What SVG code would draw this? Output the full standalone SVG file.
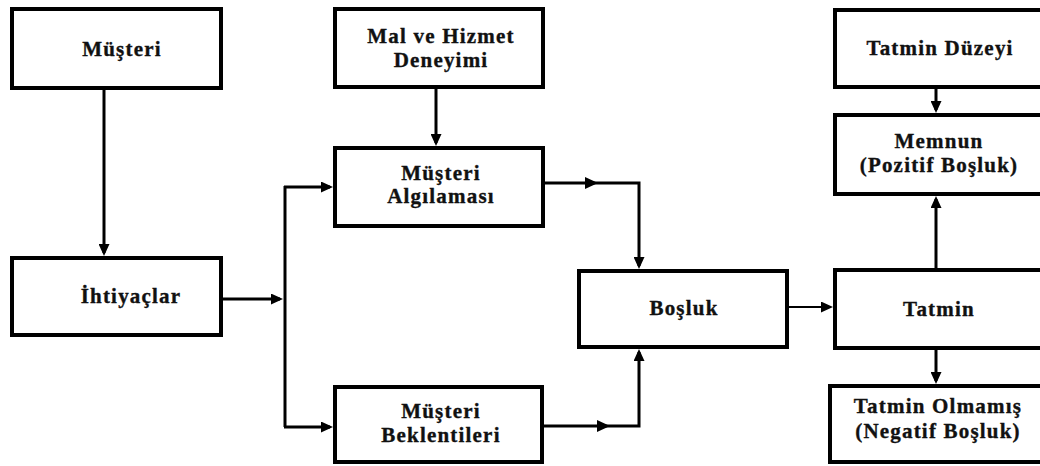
<svg xmlns="http://www.w3.org/2000/svg" width="1040" height="466" viewBox="0 0 1040 466">
<style>
.box{fill:#fff;stroke:#000;stroke-width:4}
.t{font-family:"Liberation Serif","Times New Roman",serif;font-weight:bold;font-size:21px;letter-spacing:1.2px;text-anchor:middle;fill:#111;stroke:#111;stroke-width:0.35px}
.c{fill:none;stroke:#000;stroke-width:3}
.c2{fill:none;stroke:#000;stroke-width:2}
</style>
<defs>
<marker id="ah" markerUnits="userSpaceOnUse" markerWidth="13" markerHeight="11" refX="9" refY="5.5" orient="auto">
<path d="M0,0 L12,5.5 L0,11 z" fill="#000"/>
</marker>
</defs>
<rect width="1040" height="466" fill="#fff"/>
<g id="connectors">
<path class="c" d="M104,90 V253" marker-end="url(#ah)"/>
<path class="c" d="M223,299 H280" marker-end="url(#ah)"/>
<path class="c" d="M285,186 V427"/>
<path class="c" d="M284,187 H330" marker-end="url(#ah)"/>
<path class="c" d="M284,427 H330" marker-end="url(#ah)"/>
<path class="c" d="M436,89 V143" marker-end="url(#ah)"/>
<path class="c" d="M545,183 H639 V266" marker-end="url(#ah)"/>
<polygon points="585,177 598,183 585,189" fill="#000"/>
<path class="c" d="M544,426 H639 V352" marker-end="url(#ah)"/>
<polygon points="597,420 610,426 597,432" fill="#000"/>
<path class="c2" d="M789,307 H830" marker-end="url(#ah)"/>
<path class="c" d="M936,89 V110" marker-end="url(#ah)"/>
<path class="c" d="M936,268 V199" marker-end="url(#ah)"/>
<path class="c" d="M936,350 V381" marker-end="url(#ah)"/>
</g>
<g id="musteri"><rect class="box" x="12" y="9" width="209" height="79"/><text class="t" x="122" y="56">Müşteri</text></g>
<g id="ihtiyaclar"><rect class="box" x="12" y="258" width="209" height="77"/><text class="t" x="131" y="303">İhtiyaçlar</text></g>
<g id="malhizmet"><rect class="box" x="335" y="9" width="208" height="78"/><text class="t" x="441" y="43">Mal ve Hizmet</text><text class="t" x="441" y="67">Deneyimi</text></g>
<g id="algilama"><rect class="box" x="335" y="148" width="208" height="78"/><text class="t" x="441" y="180">Müşteri</text><text class="t" x="441" y="203">Algılaması</text></g>
<g id="beklenti"><rect class="box" x="335" y="387" width="207" height="75"/><text class="t" x="441" y="418">Müşteri</text><text class="t" x="441" y="442">Beklentileri</text></g>
<g id="bosluk"><rect class="box" x="579" y="271" width="208" height="76"/><text class="t" x="684" y="315">Boşluk</text></g>
<g id="duzey"><rect class="box" x="835" y="10" width="215" height="77"/><text class="t" x="940" y="55">Tatmin Düzeyi</text></g>
<g id="memnun"><rect class="box" x="835" y="115" width="215" height="79"/><text class="t" x="939" y="148">Memnun</text><text class="t" x="939" y="172">(Pozitif Boşluk)</text></g>
<g id="tatmin"><rect class="box" x="835" y="270" width="215" height="78"/><text class="t" x="939" y="316">Tatmin</text></g>
<g id="olmamis"><rect class="box" x="830" y="386" width="220" height="76"/><text class="t" x="938" y="413">Tatmin Olmamış</text><text class="t" x="938" y="438">(Negatif Boşluk)</text></g>
</svg>
